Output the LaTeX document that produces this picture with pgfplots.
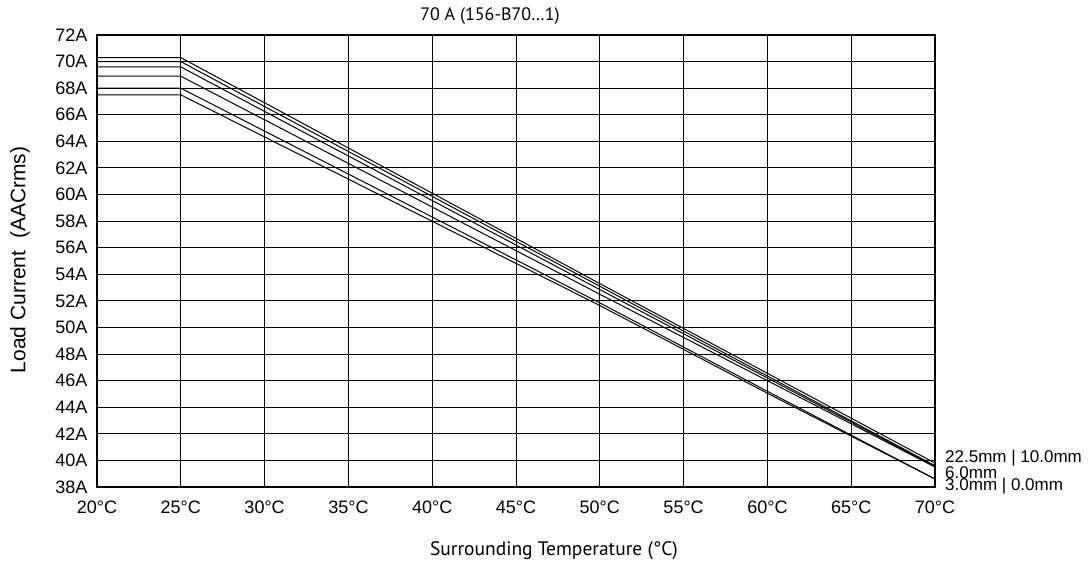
\documentclass[border=0pt]{standalone}
\usepackage{fontspec}
\setmainfont{Liberation Sans}
\newfontfamily\myr{PT Sans}
\usepackage{pgfplots}
\pgfplotsset{compat=1.18}

\begin{document}
\begin{tikzpicture}
\useasboundingbox (-97pt,-79pt) rectangle (994pt,487pt);
\begin{axis}[
  at={(0pt,0pt)}, anchor=south west,
  width=838pt, height=452pt, scale only axis,
  xmin=20, xmax=70, ymin=38, ymax=72,
  xtick={20,25,...,70}, ytick={38,40,...,72},
  xticklabel={\pgfmathprintnumber{\tick}°C},
  yticklabel={\pgfmathprintnumber{\tick}A},
  /pgf/number format/assume math mode=true,
  ticklabel style={font=\fontsize{18}{18}\selectfont},
  xticklabel style={yshift=-10pt},
  yticklabel style={xshift=-6pt},
  major tick length=0pt,
  grid=major, major grid style={black, line width=0.9pt},
  axis line style={black, line width=1.6pt},
]
\addplot[black, line width=1pt, no marks] coordinates {(20,70.3) (25,70.3) (50,53.3) (70,39.8)};
\addplot[black, line width=1pt, no marks] coordinates {(20,70.0) (25,70.0) (50,53.1) (70,39.6)};
\addplot[black, line width=1pt, no marks] coordinates {(20,69.6) (25,69.6) (50,52.85) (70,39.55)};
\addplot[black, line width=1pt, no marks] coordinates {(20,68.9) (25,68.9) (50,52.5) (70,39.5)};
\addplot[black, line width=1pt, no marks] coordinates {(20,68.0) (25,68.0) (50,51.85) (60,45.2) (70,38.6)};
\addplot[black, line width=1pt, no marks] coordinates {(20,67.5) (25,67.5) (50,51.65) (60,45.05) (70,38.6)};
\end{axis}
\node[font=\myr\fontsize{18}{18}\selectfont] at (393pt,471pt) {70 A (156-B70…1)};
\node[rotate=90, font=\fontsize{21}{21}\selectfont] at (-77pt,227pt) {Load Current\ \ (AACrms)};
\node[font=\myr\fontsize{19.5}{19.5}\selectfont] at (457pt,-64pt) {Surrounding Temperature (°C)};
\begin{scope}[every node/.style={anchor=west, inner sep=0pt, font=\fontsize{17}{17}\selectfont}]
\node at (848pt,29pt) {22.5mm | 10.0mm};
\node at (848pt,14.5pt) {6.0mm};
\node at (848pt,0.5pt) {3.0mm | 0.0mm};
\end{scope}
\end{tikzpicture}
\end{document}
